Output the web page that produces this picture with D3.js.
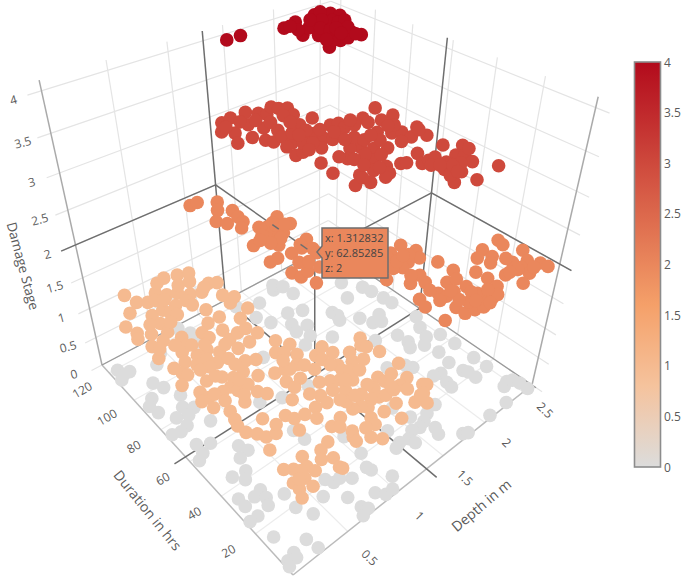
<!DOCTYPE html>
<html><head><meta charset="utf-8">
<script src="https://cdn.jsdelivr.net/npm/d3@7"></script>
<style>html,body{margin:0;background:#fff}svg{display:block}text{font-family:"Open Sans",sans-serif}</style>
</head><body><div id="chart"></div>
<script>
// [depth in m, duration in hrs], one list per damage stage
const stage0=[[.07,119],[.08,115],[.14,115],[.04,113],[.22,103],[.26,98],[.12,96],[.06,93],[.08,88],[.32,90],[.26,84],
[.33,81],[.25,79],[.16,81],[.18,75],[.11,74],[.04,75],[.35,71],[.13,65],[.22,62],[.12,60],[.06,58],
[.37,54],[.40,50],[.31,49],[.16,44],[.27,43],[.22,40],[.25,33],[.08,35],[.08,31],[.18,32],[.24,29],
[.21,26],[.10,25],[.03,25],[.36,26],[.35,19],[.41,13],[.56,16],[.08,15],[.24,7],[.26,2],[.11,6],
[.04,5],[.10,4],[.02,3],[.67,21],[.70,18],[.36,111],[.46,116],[.75,124],[.80,118],[.79,111],[1.11,85],
[.77,66],[.94,62],[1.53,114],[1.38,107],[1.44,100],[1.64,100],[1.57,93],[1.54,88],[1.77,97],[1.67,88],[1.60,82],
[1.86,109],[1.49,79],[1.33,119],[1.19,60],[.80,40],[.79,46],[1.74,75],[1.96,87],[1.75,117],[1.97,84],[2.21,90],
[2.47,79],[2.48,74],[2.45,86],[2.10,76],[2.15,70],[2.27,72],[2.22,68],[1.94,81],[2.51,60],[2.43,54],[2.38,48],
[2.20,57],[2.00,61],[2.21,51],[2.17,48],[2.29,45],[2.50,45],[2.51,37],[2.32,38],[2.29,31],[2.50,26],
[2.50,19],[2.31,24],[2.33,22],[2.33,18],[2.14,29],[2.07,30],[2.10,24],[2.09,21],[2.49,8],[2.43,7],[2.54,7],
[2.56,4],[2.56,0],[2.30,1],[2.09,1],[1.78,2],[1.82,1],[1.63,8],[1.66,11],[1.72,18],[1.64,16],[1.57,15],
[1.50,16],[1.42,14],[1.43,11],[1.34,15],[1.28,14],[1.35,22],[1.84,19],[1.59,21],[1.55,29],[2.01,39],[1.98,42],
[1.84,46],[1.04,21],[1.05,31],[.83,15],[.98,15],[.99,13],[1.07,6],[.87,5],[.92,2],[.99,2],[.69,10],
[.71,4],[.74,2],[.67,1],[.76,18],[1.79,120],[1.85,116],[2.20,118],[2.32,100],[2.43,91]];
const stage1=[[.30,124],[.33,117],[.22,113],[.11,107],[.14,101],[.11,98],[.40,114],[.51,117],[.57,113],[.65,111],[.72,107],[.81,105],[.34,106],
[.44,106],[.55,105],[.47,103],[.50,100],[.34,100],[.33,94],[.22,97],[.25,91],[.15,91],[.12,84],[.38,88],
[.36,83],[.29,81],[.25,76],[.36,76],[.30,72],[.15,76],[.17,72],[.19,70],[.10,67],[.71,95],[.63,88],
[.53,85],[.54,81],[.74,88],[.67,81],[.65,75],[.74,76],[.82,76],[.86,71],[.75,69],[.86,82],[.98,85],
[.91,92],[.98,94],[.92,98],[.45,76],[.51,72],[.39,72],[.43,68],[.52,67],[.36,68],[.64,69],[.60,62],
[.67,60],[.52,58],[.58,53],[.37,61],[.43,58],[.36,55],[.38,52],[.26,63],[.16,60],[.18,56],[.15,51],
[.12,56],[.29,55],[.47,52],[.35,46],[.39,49],[.48,47],[.52,44],[.22,46],[.20,42],[.18,39],[.19,35],
[.24,32],[.35,36],[.27,29],[.22,24],[.34,28],[.39,31],[.49,32],[.52,29],[.48,24],[.91,63],[.83,58],
[.97,58],[.88,56],[.94,52],[.87,48],[.69,50],[.77,49],[.70,44],[.80,42],[.71,40],[.62,36],[.60,28],
[.70,28],[.64,24],[1.04,47],[1.14,49],[1.16,44],[1.05,44],[.94,42],[.88,36],[.95,34],[1.10,38],[.90,30],
[.80,31],[.79,27],[.67,18],[.77,19],[.56,14],[.48,13],[.50,8],[.35,15],[.43,10],[.24,13],[.19,15],
[.32,11],[.25,8],[.17,9],[.25,4],[.17,6],[.14,3],[.48,4],[1.43,43],[1.38,40],[1.40,38],[1.44,33],
[1.26,40],[1.21,36],[1.29,34],[1.46,24],[1.09,35],[1.08,29],[1.01,32],[1.24,24],[1.25,21],[1.34,22],[1.40,17],
[1.31,16],[1.32,13],[1.44,11],[1.46,10],[1.38,8],[1.33,4],[1.27,7],[1.16,11],[1.14,21],[1.11,17],[1.05,18],
[.98,16],[.95,18],[.89,19],[1.04,11],[1.09,5],[.93,12],[.91,9],[.84,10],[.75,12],[.72,10],[.71,8],
[.81,6],[.86,3],[.97,27],[.90,23],[.71,16],[.49,3],[.59,122],[.67,123],[.78,121],[.87,119],[.92,108],
[.98,106],[.86,107],[.71,115],[.81,114],[.46,113],[.52,111],[.65,105],[.27,102],[.41,98],[.66,101],
[.18,88],[.29,86],[.39,82],[.47,79],[.29,69],[.34,63],[.59,74],[.52,63],[.25,51],[.23,56],[.45,56],
[1.06,40],[1.13,33],[1.19,31],[1.13,24],[1.03,22],[.99,23],[1.04,31],[.88,25],[.91,46],[.80,48],[.75,34],
[1.16,16],[1.24,16],[1.25,18],[1.35,8],[.27,11],[.22,9],[.34,8],[.82,53]];
const stage2=[[.97,120],[1.04,120],[1.17,115],[1.10,110],[1.00,104],[1.19,106],[1.05,100],[1.17,101],[1.16,97],[1.10,94],[1.21,90],
[1.41,91],[1.43,84],[1.26,88],[1.25,84],[1.31,81],[1.17,82],[1.18,76],[1.03,82],[1.16,85],[1.33,89],[1.39,72],
[1.29,69],[1.19,69],[1.35,66],[1.07,70],[1.00,70],[1.04,60],[1.06,56],[1.10,50],[1.14,57],[1.34,63],[1.24,56],
[1.89,46],[1.93,40],[1.88,36],[1.76,45],[1.78,37],[1.70,36],[1.70,44],[1.51,35],[1.64,38],[1.73,29],[1.61,28],
[1.70,25],[1.95,30],[1.96,23],[1.82,20],[1.90,19],[1.89,14],[2.51,24],[2.49,21],[2.32,24],[2.21,22],[2.31,19],
[2.24,17],[2.07,17],[2.08,12],[2.06,7],[2.21,9],[2.55,14],[2.37,12],[2.47,9],[2.37,8],[2.36,4],[2.52,5],
[2.53,2],[2.23,2],[1.53,20],[1.50,16],[1.68,18],[1.70,15],[1.66,9],[1.66,5],[1.74,4],[1.81,3],[1.77,8],
[1.88,7],[1.93,4],[1.99,4],[1.50,7],[1.78,15],[1.89,9],[1.33,87],[1.25,79],[1.15,79],[1.39,85],[1.11,83],
[1.31,71],[1.16,63],[1.22,61],[1.85,40],[1.72,40],[1.66,21],[1.63,15],[1.74,11],[1.87,11],[1.98,8],[2.37,15],
[2.33,8],[2.44,5],[2.26,9],[1.77,16],[1.81,41],[1.82,7],[1.88,3],[1.68,31]];
const stage3=[[1.33,119],[1.24,113],[1.43,120],
[1.31,109],[1.23,102],[1.58,120],[1.37,102],[1.47,111],[1.65,116],[1.69,113],[1.80,117],[1.83,114],[1.89,112],[1.42,97],
[1.45,94],[1.53,105],[1.59,100],[1.85,106],[1.78,98],[1.93,99],[1.55,95],[1.55,89],[1.45,81],[1.52,81],[1.68,88],
[1.78,89],[1.78,84],[1.67,79],[1.52,71],[1.49,63],[1.96,90],[2.03,89],[1.82,81],[1.65,95],[1.61,86],[1.67,84],
[2.44,89],[2.46,80],[2.24,86],[2.02,85],[2.11,84],[2.22,82],[2.16,74],[2.24,70],[2.31,68],[2.46,67],[2.42,60],
[2.31,63],[2.20,63],[2.05,63],[1.96,66],[1.90,70],[1.83,72],[1.71,67],[1.84,60],[1.94,61],[1.85,54],[1.74,55],
[1.80,50],[1.62,56],[1.61,50],[1.50,52],[1.74,49],[1.96,52],[2.00,51],[2.16,53],[2.08,47],[2.15,47],[2.22,47],
[2.40,51],[2.14,39],[2.06,31],[2.51,46],[2.36,43],[2.41,41],[2.38,36],[2.21,34],[2.21,27],[2.11,35],[2.30,38],
[2.48,28],[2.23,42],[1.93,83],[1.68,70],[1.97,77],[1.85,65],[1.31,115],[1.45,115],[1.56,112],[1.63,107],[1.78,108],
[1.75,102],[1.76,93],[1.67,92],[1.48,88],[1.89,78],[1.74,65],[2.00,73],[2.09,69],[2.35,74],[2.33,80],[2.30,75],
[2.09,74],[2.14,88],[1.85,90],[1.58,81],[1.91,85],[2.11,44],[2.23,39],[2.19,35],[2.16,42],[1.74,60],[1.80,55],
[1.61,54],[2.51,43],[2.44,65]];
const stage4=[[1.46,121],[1.59,121],[1.94,116],[2.09,118],[1.96,106],[2.31,119],[2.13,110],[2.43,116],
[1.96,91],[2.17,100],[2.31,92],[2.29,96],[2.46,112],[2.11,93],[2.39,120],[2.23,108],[2.34,110],[2.35,107],[2.29,102],
[2.05,102],[2.09,110],[2.19,93],[2.28,113],[2.08,95],[2.42,107],[2.21,116],[2.16,107],[2.34,101],[2.29,94],[2.19,103],
[2.25,103],[2.04,97],[2.21,98],[2.00,111],[2.00,116]];
const stages=[stage0,stage1,stage2,stage3,stage4];
const hover=[1.312832,62.85285,2];
const hoverText=["x: 1.312832","y: 62.85285","z: 2"];
const depthTicks=[0.5,1,1.5,2,2.5], durTicks=[20,40,60,80,100,120], stageTicks=[0,0.5,1,1.5,2,2.5,3,3.5,4];
const dMax=2.62,tMax=126,zTop=4.12;
const W=685,H=582;

// camera: floor corners on screen, vanishing point of the stage axis and its strength
const B=[293,575],R=[532,385],K=[328,246],L=[102,365],V=[315,1330],E=-0.286;
const uS=d3.scaleLinear().domain([0,dMax]).range([0,1]);
const vS=d3.scaleLinear().domain([0,tMax]).range([0,1]);
const wS=d3.scaleLinear().domain([0,4]).range([0,1]);
const dx1=R[0]-K[0],dx2=L[0]-K[0],sx=B[0]-R[0]+K[0]-L[0],dy1=R[1]-K[1],dy2=L[1]-K[1],sy=B[1]-R[1]+K[1]-L[1];
const det=dx1*dy2-dx2*dy1,g=(sx*dy2-dx2*sy)/det,h=(dx1*sy-sx*dy1)/det;
const a=R[0]-B[0]+g*R[0],b=L[0]-B[0]+h*L[0],c=B[0],dd=R[1]-B[1]+g*R[1],ee=L[1]-B[1]+h*L[1],f=B[1];
function proj(d,t,z){
  const u=uS(d),v=vS(t),w=wS(z),q=g*u+h*v+1+w*E;
  return [(a*u+b*v+c+w*E*V[0])/q,(dd*u+ee*v+f+w*E*V[1])/q];
}

const color=d3.scaleLinear().domain([0,.8,1.6,4]).range(["rgb(220,220,220)","rgb(245,195,157)","rgb(245,160,105)","rgb(178,10,28)"]);
const svg=d3.select("#chart").append("svg").attr("width",W).attr("height",H);
function seg(p,q,col,wd){
  const A=proj(...p),C=proj(...q);
  svg.append("line").attr("x1",A[0]).attr("y1",A[1]).attr("x2",C[0]).attr("y2",C[1]).attr("stroke",col).attr("stroke-width",wd);
}
function label(x,y,txt,rot,size,fill){
  svg.append("text").attr("transform",`translate(${x},${y}) rotate(${rot})`).attr("text-anchor","middle").attr("dominant-baseline","central").attr("font-size",size).attr("fill",fill||"#5a5a5a").text(txt);
}
const grid="#e4e4e4",ax="#aaa",spike="#6e6e6e";

// walls and floor
durTicks.forEach(t=>{seg([0,t,0],[dMax,t,0],"#ececec",1.2);seg([dMax,t,0],[dMax,t,zTop],grid,1.2);});
depthTicks.forEach(d=>{seg([d,0,0],[d,tMax,0],"#ececec",1.2);seg([d,tMax,0],[d,tMax,zTop],grid,1.2);});
stageTicks.forEach(z=>{seg([-0.1,tMax,z],[dMax,tMax,z],grid,1.2);seg([dMax,-5,z],[dMax,tMax,z],grid,1.2);});
seg([0,tMax,0],[0,tMax,zTop],ax,1.5);seg([dMax,0,0],[dMax,0,zTop],ax,1.5);
seg([0,0,0],[0,tMax,0],"#bbb",1.5);seg([0,0,0],[dMax,0,0],"#bbb",1.5);
seg([0,tMax,0],[dMax,tMax,0],"#999",1.3);seg([dMax,-2,0],[dMax,tMax,0],"#999",1.3);

// hover spikes
const [hd,ht,hz]=hover;
seg([hd,tMax,0],[hd,tMax,zTop],spike,1.5);seg([dMax,ht,0],[dMax,ht,zTop],spike,1.5);
seg([-0.12,tMax,hz],[hd,tMax,hz],spike,1.5);seg([dMax,-5,hz],[dMax,ht,hz],spike,1.5);
seg([hd,tMax,hz],hover,spike,1.5);seg([dMax,ht,hz],hover,spike,1.5);seg(hover,[hd,ht,0],spike,1.5);
seg([hd,-5,0],[hd,tMax,0],spike,1.5);seg([-0.1,ht,0],[dMax,ht,0],spike,1.5);

stages.forEach((pts,z)=>{
  svg.append("g").selectAll("circle").data(pts).join("circle")
    .attr("cx",p=>proj(p[0],p[1],z)[0]).attr("cy",p=>proj(p[0],p[1],z)[1]).attr("r",6.8).attr("fill",color(z));
});
// bits of the spike that show through the markers
seg([hd,88,hz],[hd,84,hz],spike,1.4);seg([hd,71,hz],[hd,67,hz],spike,1.4);

// tick labels
stageTicks.forEach(z=>{const p=proj(0,tMax,z);label(p[0]-28,p[1]+9,z,-15,12);});
durTicks.forEach(t=>{const p=proj(0,t,0);label(p[0]-27,p[1]+17,t,-30,12);});
depthTicks.forEach(d=>{const p=proj(d,0,0);label(p[0]+22,p[1]+26-(d-0.5)*4,d,45,12);});
label(23,266,"Damage Stage",75,13.5);label(148,510,"Duration in hrs",51,14);label(481,505,"Depth in m",-40,14);

// colour bar
const lg=svg.append("defs").append("linearGradient").attr("id","cb").attr("x1",0).attr("y1",1).attr("x2",0).attr("y2",0);
d3.range(0,4.01,0.2).forEach(z=>lg.append("stop").attr("offset",z/4).attr("stop-color",color(z)));
const yBar=d3.scaleLinear().domain([0,4]).range([467,62]);
svg.append("rect").attr("x",634.5).attr("y",yBar(4)).attr("width",26).attr("height",yBar(0)-yBar(4)).attr("fill","url(#cb)").attr("stroke","#8c8c8c").attr("stroke-width",1.6);
stageTicks.forEach(z=>{svg.append("text").attr("x",664).attr("y",yBar(z)).attr("dominant-baseline","central").attr("font-size",12).attr("fill","#5a5a5a").text(z);});

// hover box
svg.append("path").attr("d","M322 228H388V278H322V258L317 252L322 246Z").attr("fill",color(2)).attr("stroke","#6e6e6e").attr("stroke-width",1.5);
hoverText.forEach((s,i)=>svg.append("text").attr("x",325).attr("y",237+15*i).attr("dominant-baseline","central").attr("font-size",11).attr("fill","#444").text(s));
</script></body></html>
